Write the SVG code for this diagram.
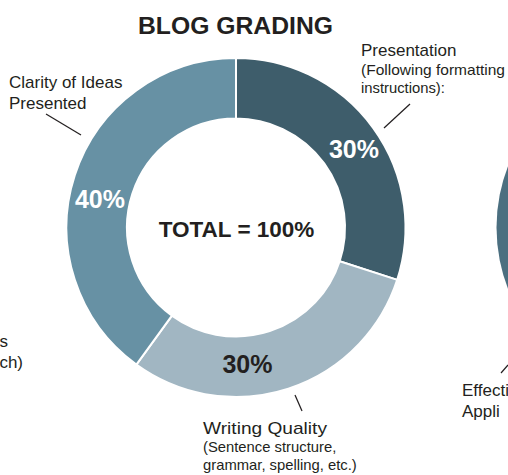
<svg xmlns="http://www.w3.org/2000/svg" width="508" height="475" viewBox="0 0 508 475">
<style>
text{font-family:"Liberation Sans",Arial,sans-serif;fill:#231f20}
.t{font-weight:bold;font-size:23px}
.pct{font-weight:bold;font-size:25px;text-anchor:middle}
.lab{font-size:17px}
.sub{font-size:14.8px}
.seg{stroke:#fff;stroke-width:2}
.ln{stroke:#231f20;stroke-width:1.2;fill:none}
</style>
<rect width="508" height="475" fill="#fff"/>
<text class="t" x="235.5" y="34" text-anchor="middle" textLength="195" lengthAdjust="spacingAndGlyphs">BLOG GRADING</text>
<g id="next-chart">
<circle cx="666" cy="227.5" r="169.5" fill="#4b6f80"/>
</g>
<g id="presentation">
<path class="seg" fill="#3e5d6b" d="M236,58 A169.5,169.5 0 0 1 397.2,279.88 L339.67,261.18 A109,109 0 0 0 236,118.5 Z"/>
<text class="pct" x="354" y="158" style="fill:#fff">30%</text>
<text class="lab" x="361" y="56">Presentation</text>
<text class="sub" x="361" y="75" textLength="144" lengthAdjust="spacingAndGlyphs">(Following formatting</text>
<text class="sub" x="361" y="93">instructions):</text>
</g>
<g id="writing-quality">
<path class="seg" fill="#a1b6c2" d="M397.2,279.88 A169.5,169.5 0 0 1 136.37,364.63 L171.93,315.68 A109,109 0 0 0 339.67,261.18 Z"/>
<text class="pct" x="247.5" y="373">30%</text>
<text class="lab" x="203" y="434" textLength="124" lengthAdjust="spacingAndGlyphs">Writing Quality</text>
<text class="sub" x="203" y="452">(Sentence structure,</text>
<text class="sub" x="203" y="470">grammar, spelling, etc.)</text>
</g>
<g id="clarity">
<path class="seg" fill="#6791a4" d="M136.37,364.63 A169.5,169.5 0 0 1 236,58 L236,118.5 A109,109 0 0 0 171.93,315.68 Z"/>
<text class="pct" x="100" y="208" style="fill:#fff">40%</text>
<text class="lab" x="9" y="88">Clarity of Ideas</text>
<text class="lab" x="9" y="109">Presented</text>
</g>
<g id="total">
<text class="t" x="236.5" y="237" text-anchor="middle" style="font-size:22.5px">TOTAL = 100%</text>
</g>
<g id="cut-labels">
<text class="lab" x="8" y="347" text-anchor="end">s</text>
<text class="lab" x="23" y="368" text-anchor="end">ch)</text>
<text class="lab" x="462" y="396">Effecti</text>
<text class="lab" x="462" y="417">Appli</text>
</g>
<g id="connectors">
<line class="ln" x1="410" y1="104" x2="384" y2="128"/>
<line class="ln" x1="46" y1="114" x2="81" y2="135"/>
<line class="ln" x1="295" y1="395" x2="302" y2="411"/>
<line class="ln" x1="501" y1="373" x2="508" y2="365"/>
</g>
</svg>
